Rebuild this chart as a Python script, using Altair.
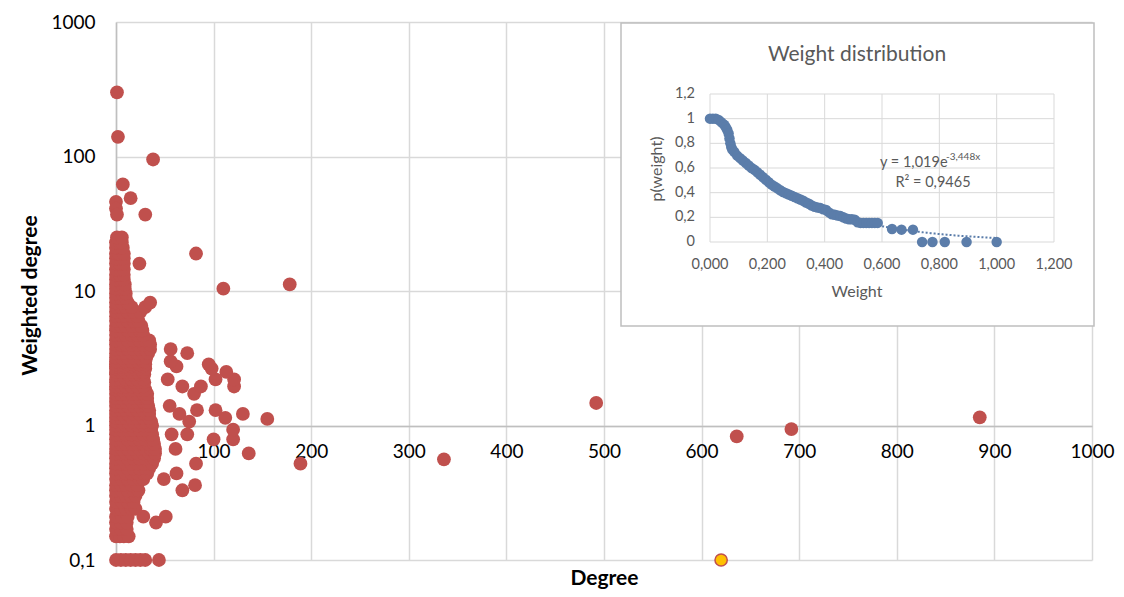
import altair as alt
import pandas as pd

# ---------------- main scatter data ----------------
cluster_levels = [0.10, 0.15, 0.17, 0.19, 0.21, 0.24, 0.27, 0.30, 0.33, 0.36, 0.40, 0.44, 0.48,
                  0.52, 0.57, 0.62, 0.67, 0.73, 0.79, 0.86, 0.93, 1.00, 1.07, 1.14, 1.22, 1.30,
                  1.40, 1.50, 1.60, 1.72, 1.85, 1.95, 2.10, 2.20, 2.40, 2.50, 2.65, 2.75, 2.85,
                  3.00, 3.20, 3.45, 3.70, 4.00, 4.30, 4.70, 5.10, 5.50, 6.00, 6.50, 7.00, 7.60,
                  8.20, 8.90, 9.60, 10.4, 11.2, 12.2, 13.2, 14.5, 16.0, 17.5, 19.0, 21.0, 23.0, 25.0]
cluster_degrees = [
    [0, 5, 10, 15, 20, 25, 30, 44],
    [0, 4, 8, 13],
    [0, 5, 11],
    [0, 5, 11, 41],
    [0, 6, 12, 28, 51],
    [0, 5, 10, 16, 20],
    [0, 6, 12, 18],
    [0, 5, 10, 15, 20],
    [0, 6, 12, 18, 23, 68],
    [0, 5, 10, 16, 22, 81],
    [0, 6, 12, 18, 24, 28, 49],
    [0, 5, 10, 16, 22, 28, 32, 62],
    [0, 6, 12, 18, 24, 30, 34],
    [0, 5, 10, 16, 22, 28, 34, 37, 82, 189],
    [0, 6, 12, 18, 24, 30, 36, 39],
    [0, 5, 10, 16, 22, 28, 34, 40, 136],
    [0, 6, 12, 18, 24, 30, 36, 40, 61],
    [0, 5, 10, 16, 22, 28, 34, 39],
    [0, 6, 12, 18, 24, 30, 36, 38, 100, 120],
    [0, 5, 10, 16, 22, 28, 34, 37, 57, 73],
    [0, 6, 12, 18, 24, 30, 36, 120],
    [0, 5, 10, 16, 22, 28, 34, 37],
    [0, 6, 12, 18, 24, 30, 36, 75],
    [0, 5, 10, 16, 22, 28, 34, 112],
    [0, 6, 12, 18, 24, 30, 34, 65, 130],
    [0, 5, 10, 16, 22, 28, 34, 83, 102],
    [0, 6, 12, 18, 24, 30, 33, 55],
    [0, 5, 10, 16, 22, 28, 32],
    [0, 6, 12, 18, 24, 30, 32],
    [0, 5, 10, 16, 22, 28, 32, 80],
    [0, 6, 12, 18, 24, 30],
    [0, 5, 10, 16, 22, 28, 68, 87, 121],
    [0, 6, 12, 18, 24, 29],
    [0, 5, 10, 16, 22, 28, 53, 102, 121],
    [0, 6, 12, 18, 24, 29],
    [0, 5, 10, 16, 22, 28, 113],
    [0, 6, 12, 18, 24, 30, 98],
    [0, 5, 10, 16, 22, 28, 62],
    [0, 6, 12, 18, 24, 30, 95],
    [0, 5, 10, 16, 22, 28, 30, 56],
    [0, 6, 12, 18, 24, 31],
    [0, 5, 10, 16, 22, 28, 33, 73],
    [0, 6, 12, 18, 24, 30, 35, 56],
    [0, 5, 10, 16, 22, 28, 35],
    [0, 6, 12, 18, 24, 30, 34],
    [0, 5, 10, 16, 22, 28],
    [0, 6, 12, 18, 24, 27],
    [0, 5, 10, 16, 22, 26],
    [0, 6, 12, 18, 23],
    [0, 5, 10, 16, 22],
    [0, 6, 12, 18, 25],
    [0, 5, 10, 16, 30],
    [0, 6, 12, 35],
    [0, 5, 10],
    [0, 6, 10],
    [0, 5, 9, 110],
    [0, 6, 9, 178],
    [0, 5, 8],
    [0, 4, 8],
    [0, 5, 8],
    [0, 4, 8, 24],
    [0, 5, 8],
    [0, 3, 8, 82],
    [0, 5, 7],
    [0, 4, 6],
    [1, 6],
]
outlier_degree = [1, 2, 38, 7, 15, 0, 0, 1, 30, 336, 492, 636, 692, 885, 155]
outlier_wdeg = [300, 140, 95, 62, 49, 46, 41, 37, 37, 0.56, 1.47, 0.83, 0.94, 1.15, 1.12]
highlight_degree = [620]
highlight_wdeg = [0.1]

x_ticks = [0, 100, 200, 300, 400, 500, 600, 700, 800, 900, 1000]
y_ticks = [0.1, 1, 10, 100, 1000]

# ---------------- inset data ----------------
inset_w = [0.0, 0.01, 0.02, 0.03, 0.04, 0.05, 0.055, 0.06, 0.065, 0.068, 0.071, 0.074, 0.078,
           0.085, 0.095, 0.105, 0.115, 0.125, 0.135, 0.145, 0.155, 0.165, 0.175, 0.185, 0.195,
           0.205, 0.215, 0.225, 0.235, 0.245, 0.255, 0.265, 0.275, 0.285, 0.295, 0.305, 0.315,
           0.325, 0.335, 0.345, 0.355, 0.365, 0.375, 0.385, 0.395, 0.405, 0.415, 0.425, 0.435,
           0.445, 0.455, 0.465, 0.475, 0.485, 0.495, 0.505, 0.515, 0.525, 0.535, 0.545, 0.555,
           0.565, 0.575, 0.585, 0.635, 0.668, 0.708, 0.74, 0.776, 0.819, 0.895, 1.0]
inset_p = [1.0, 1.0, 1.0, 0.99, 0.97, 0.95, 0.93, 0.91, 0.88, 0.84, 0.80, 0.77, 0.75,
           0.73, 0.70, 0.68, 0.66, 0.64, 0.62, 0.60, 0.585, 0.565, 0.545, 0.525, 0.505,
           0.485, 0.465, 0.45, 0.435, 0.42, 0.405, 0.395, 0.385, 0.375, 0.365, 0.355, 0.345,
           0.335, 0.32, 0.31, 0.295, 0.285, 0.28, 0.275, 0.265, 0.26, 0.24, 0.225, 0.22,
           0.215, 0.21, 0.20, 0.19, 0.185, 0.185, 0.18, 0.16, 0.155, 0.155, 0.155, 0.155,
           0.155, 0.155, 0.155, 0.105, 0.10, 0.10, 0.0, 0.0, 0.0, 0.0, 0.0]
inset_ticks = [0, 0.2, 0.4, 0.6, 0.8, 1.0, 1.2]
inset_x_labels = ["0,000", "0,200", "0,400", "0,600", "0,800", "1,000", "1,200"]
inset_y_labels = ["0", "0,2", "0,4", "0,6", "0,8", "1", "1,2"]
trend_a = 1.019
trend_b = -3.448

FONT = "Lato"
RED = "#C0504D"
BLUE = "#5B7DAA"
GREY_TXT = "#595959"
GRID = "#D9D9D9"

# ---------------- build tables ----------------
rows = []
for lvl, degs in zip(cluster_levels, cluster_degrees):
    for d in degs:
        rows.append({"degree": d, "wdeg": lvl})
for d, w in zip(outlier_degree, outlier_wdeg):
    rows.append({"degree": d, "wdeg": w})
main_df = pd.DataFrame(rows)
hl_df = pd.DataFrame({"degree": highlight_degree, "wdeg": highlight_wdeg})

xs = alt.Scale(domain=[0, 1000], nice=False, zero=False)
ys = alt.Scale(type="log", domain=[0.1, 1000], nice=False)

x_axis = alt.Axis(values=x_ticks, title="Degree", offset=-134, ticks=False, labelPadding=16,
                  labelFontSize=19, labelFont=FONT, labelColor="black", labelFlush=False,
                  labelOverlap=False, labelExpr="toString(datum.value)",
                  domainColor="#BFBFBF", domainWidth=1.5,
                  grid=True, gridColor=GRID, gridWidth=1.5,
                  titleFont=FONT, titleFontSize=21, titleFontWeight="bold", titleColor="black",
                  titleY=158, titleBaseline="alphabetic")
y_axis = alt.Axis(values=y_ticks, title="Weighted degree", ticks=False, labelPadding=21,
                  labelFontSize=19, labelFont=FONT, labelColor="black", labelFlush=False,
                  labelOverlap=False,
                  labelExpr="replace(toString(datum.value), '.', ',')",
                  domainColor="#BFBFBF", domainWidth=1.5,
                  grid=True, gridColor=GRID, gridWidth=1.5,
                  titleFont=FONT, titleFontSize=21, titleFontWeight="bold", titleColor="black",
                  titleX=-86, titleY=273, titleAngle=270, titleAlign="center",
                  titleBaseline="middle")

pts = alt.Chart(main_df).mark_circle(size=190, color=RED, opacity=1).encode(
    x=alt.X("degree:Q", scale=xs, axis=x_axis),
    y=alt.Y("wdeg:Q", scale=ys, axis=y_axis),
)
hl = alt.Chart(hl_df).mark_point(size=150, filled=True, fill="#FFC000", stroke=RED,
                                 strokeWidth=1.5, opacity=1, shape="circle").encode(
    x=alt.X("degree:Q", scale=xs, axis=x_axis),
    y=alt.Y("wdeg:Q", scale=ys, axis=y_axis),
)
main = alt.layer(pts, hl)

# ---------------- inset ----------------
ixs = alt.Scale(domain=[0, 1.2], range=[594, 938], nice=False, zero=False)
iys = alt.Scale(domain=[0, 1.2], range=[220, 72], nice=False, zero=False)
one = pd.DataFrame({"a": [0]})

box = alt.Chart(one).mark_rect(fill="white", stroke="#BFBFBF", strokeWidth=1.5).encode(
    x=alt.value(505), x2=alt.value(978), y=alt.value(1), y2=alt.value(304))

tick_df = pd.DataFrame({"t": inset_ticks, "lo": [0] * len(inset_ticks),
                        "hi": [1.2] * len(inset_ticks),
                        "xl": inset_x_labels, "yl": inset_y_labels})

vgrid = alt.Chart(tick_df).mark_rule(color=GRID, strokeWidth=1).encode(
    x=alt.X("t:Q", scale=ixs, axis=None),
    y=alt.Y("lo:Q", scale=iys, axis=None), y2="hi:Q")
hgrid = alt.Chart(tick_df).mark_rule(color=GRID, strokeWidth=1).encode(
    y=alt.Y("t:Q", scale=iys, axis=None),
    x=alt.X("lo:Q", scale=ixs, axis=None), x2="hi:Q")

trend = alt.Chart(alt.sequence(0.1, 1.0001, 0.005, as_="w")).transform_calculate(
    p=f"{trend_a}*exp({trend_b}*datum.w)"
).mark_line(color=BLUE, strokeWidth=2, strokeDash=[2, 2]).encode(
    x=alt.X("w:Q", scale=ixs, axis=None), y=alt.Y("p:Q", scale=iys, axis=None))

inset_df = pd.DataFrame({"w": inset_w, "p": inset_p})
ipts = alt.Chart(inset_df).mark_circle(size=110, color=BLUE, opacity=1).encode(
    x=alt.X("w:Q", scale=ixs, axis=None), y=alt.Y("p:Q", scale=iys, axis=None))

xlabs = alt.Chart(tick_df).mark_text(font=FONT, fontSize=14.5, color=GREY_TXT, dy=23,
                                     baseline="middle", align="center").encode(
    x=alt.X("t:Q", scale=ixs, axis=None), y=alt.Y("lo:Q", scale=iys, axis=None), text="xl:N")
ylabs = alt.Chart(tick_df).mark_text(font=FONT, fontSize=14.5, color=GREY_TXT, dx=-15,
                                     baseline="middle", align="right").encode(
    y=alt.Y("t:Q", scale=iys, axis=None), x=alt.X("lo:Q", scale=ixs, axis=None), text="yl:N")


def label(txt, x, y, size, angle=0, align="center"):
    return alt.Chart(one).mark_text(font=FONT, fontSize=size, color=GREY_TXT, angle=angle,
                                    align=align, baseline="middle").encode(
        x=alt.value(x), y=alt.value(y), text=alt.value(txt))


title_t = label("Weight distribution", 741, 33, 21)
wlab = label("Weight", 741, 270, 16)
plab = label("p(weight)", 541, 147, 16, angle=270)
eq1 = label("y = 1,019e", 764, 141, 14.5, align="left")
eq2 = label("-3,448x", 830, 135, 10, align="left")
eq3 = label("R² = 0,9465", 817, 161, 14.5)

inset = alt.layer(box, vgrid, hgrid, trend, ipts, xlabs, ylabs, title_t, wlab, plab, eq1, eq2, eq3)

chart = alt.layer(main, inset).resolve_scale(x="independent", y="independent").properties(
    width=976, height=538,
    padding={"left": 108, "top": 14, "right": 24, "bottom": 29},
    autosize=alt.AutoSizeParams(type="none"),
).configure_view(stroke=None)

chart.save("out.html", embed_options={"renderer": "svg", "actions": False})
